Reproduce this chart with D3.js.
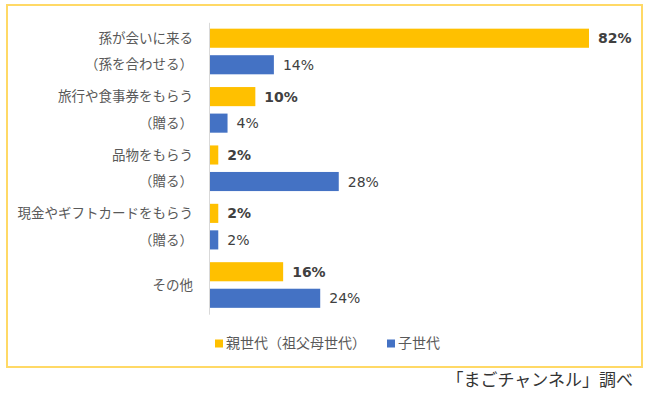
<!DOCTYPE html>
<html><head><meta charset="utf-8">
<script src="https://cdn.jsdelivr.net/npm/d3@7"></script>
<style>html,body{margin:0;padding:0;background:#fff;}svg{display:block;font-family:"Noto Sans CJK JP","Noto Sans",sans-serif;}</style>
</head><body>
<svg id="c" width="650" height="395"></svg>
<script>
const groups = ["g1","g2","g3","g4","g5"];
const parentLabels = ["孫が会いに来る","旅行や食事券をもらう","品物をもらう","現金やギフトカードをもらう","その他"];
const childLabels = ["（孫を合わせる）","（贈る）","（贈る）","（贈る）",""];
const parentValues = [82,10,2,2,16];
const childValues = [14,4,28,2,24];
const seriesNames = ["親世代（祖父母世代）","子世代"];
const seriesKeys = ["parent","child"];
const colors = ["#FFC000","#4472C4"];
const source = "「まごチャンネル」調べ";

const svg = d3.select("#c");
svg.append("rect").attr("x",7).attr("y",5).attr("width",635).attr("height",362)
  .attr("fill","#fff").attr("stroke","#FFD966").attr("stroke-width",2);

const x = d3.scaleLinear().domain([0,82]).range([209,589]);
const y = d3.scaleBand().domain(groups).range([22.3,314.2]);
const ys = d3.scaleBand().domain(seriesKeys).range([0,y.bandwidth()]).paddingInner(0.28).paddingOuter(0.24);

const data = groups.map((g,i)=>({g, parent:parentValues[i], child:childValues[i], pl:parentLabels[i], cl:childLabels[i]}));

const gg = svg.selectAll("g.grp").data(data).join("g").attr("class","grp")
  .attr("transform",d=>`translate(0,${y(d.g)})`);

seriesKeys.forEach((k,si)=>{
  gg.append("rect").attr("x",x(0)).attr("y",ys(k)).attr("height",ys.bandwidth())
    .attr("width",d=>x(d[k])-x(0)).attr("fill",colors[si]);
  gg.append("text").attr("x",d=>x(d[k])+9).attr("y",ys(k)+ys.bandwidth()/2)
    .attr("dy","0.36em").attr("font-size",14).attr("fill","#404040")
    .style("font-family","'DejaVu Sans',sans-serif")
    .attr("font-weight",si===0?"bold":"normal").text(d=>d[k]+"%");
});

// category labels
gg.append("text").attr("x",193).attr("text-anchor","end").attr("font-size",13.5).attr("fill","#595959")
  .attr("dy","0.35em")
  .attr("y",d=>d.cl? ys("parent")+ys.bandwidth()/2 : y.bandwidth()/2).text(d=>d.pl);
gg.filter(d=>d.cl).append("text").attr("x",193).attr("text-anchor","end").attr("font-size",13.5).attr("fill","#595959")
  .attr("dy","0.35em").attr("y",ys("child")+ys.bandwidth()/2).text(d=>d.cl);

// axis line
svg.append("g").attr("transform",`translate(${x(0)},0)`)
  .call(d3.axisLeft(y).tickSize(0).tickFormat(""))
  .call(g=>g.select(".domain").attr("stroke","#d9d9d9").attr("stroke-width",1));

// legend
const lx = [215,387];
seriesNames.forEach((n,i)=>{
  svg.append("rect").attr("x",lx[i]).attr("y",339.5).attr("width",8).attr("height",8).attr("fill",colors[i]);
  svg.append("text").attr("x",lx[i]+11).attr("y",343.5).attr("dy","0.35em").attr("font-size",14)
    .attr("fill","#595959").text(n);
});

svg.append("text").attr("x",633).attr("y",380).attr("dy","0.35em").attr("text-anchor","end")
  .attr("font-size",17).attr("fill","#333").text(source);
</script>
</body></html>
